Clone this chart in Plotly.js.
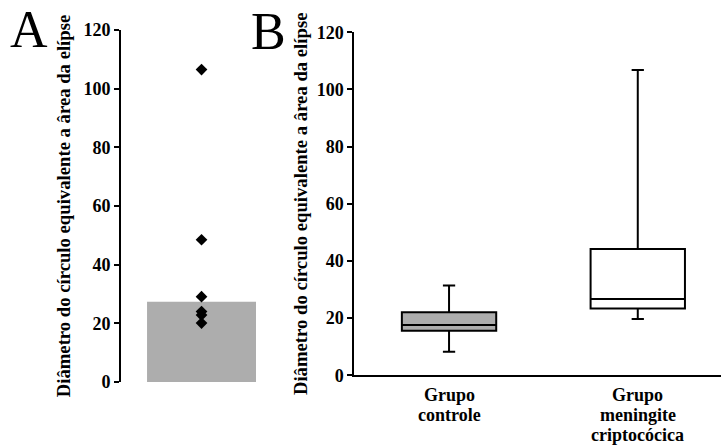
<!DOCTYPE html>
<html><head><meta charset="utf-8">
<script src="https://cdn.plot.ly/plotly-3.0.1.min.js"></script>
<style>body{margin:0}#chart{width:721px;height:445px}</style>
</head><body><div id="chart"></div>
<script>
const yTitle = 'Diâmetro do círculo equivalente a ârea da elípse';
const panelLabels = ['A', 'B'];
const barCategory = [0];
const barValue = [27.4];
const pointX = [0, 0, 0, 0, 0, 0];
const pointValues = [106.5, 48.5, 29.1, 24.0, 22.8, 20.1];
const groups = ['Grupo controle', 'Grupo meningite criptocócica'];
const groupLabelLines = [['Grupo', 'controle'], ['Grupo', 'meningite', 'criptocócica']];
const q1 = [15.6, 23.4];
const median = [17.6, 26.7];
const q3 = [22.1, 44.2];
const lowerfence = [8.2, 19.7];
const upperfence = [31.4, 106.8];
const boxFill = ['#adadad', '#ffffff'];
const yTicks = [0, 20, 40, 60, 80, 100, 120];

const W = 721, H = 445;
const fx = p => p / W;
const fy = p => 1 - p / H;
const FAM = 'Liberation Serif, serif';
const f18 = {family: FAM, size: 18, color: '#000', weight: 'bold'};
const fTitle = {family: FAM, size: 18.7, color: '#000', weight: 'bold'};

const traces = [
  {type: 'bar', x: barCategory, y: barValue, width: 1, marker: {color: '#adadad', line: {width: 0}},
   xaxis: 'x', yaxis: 'y', showlegend: false, hoverinfo: 'y'},
  {type: 'scatter', mode: 'markers', x: pointX, y: pointValues,
   marker: {symbol: 'diamond', size: 9, color: '#000'}, xaxis: 'x', yaxis: 'y', showlegend: false}
];
groups.forEach((g, i) => {
  traces.push({
    type: 'box', x: [g], q1: [q1[i]], median: [median[i]], q3: [q3[i]],
    lowerfence: [lowerfence[i]], upperfence: [upperfence[i]],
    fillcolor: boxFill[i], line: {color: '#000', width: 2},
    width: 0.5, whiskerwidth: 0.13, boxpoints: false,
    xaxis: 'x2', yaxis: 'y2', showlegend: false
  });
});

const yAxisCommon = {
  range: [0, 120], tickvals: yTicks, showline: true, linewidth: 2, linecolor: '#000',
  ticks: 'outside', ticklen: 5, tickwidth: 2, tickcolor: '#000', showgrid: false, zeroline: false,
  tickfont: f18, fixedrange: true
};

const annotations = [
  {text: panelLabels[0], x: fx(29), y: fy(30), xref: 'paper', yref: 'paper', xanchor: 'center', yanchor: 'middle',
   showarrow: false, font: {family: FAM, size: 52, weight: 'normal', color: '#000'}},
  {text: panelLabels[1], x: fx(268), y: fy(31), xref: 'paper', yref: 'paper', xanchor: 'center', yanchor: 'middle',
   showarrow: false, font: {family: FAM, size: 52, weight: 'normal', color: '#000'}}
];
const lineCenters = [395, 414.8, 434.6];
groupLabelLines.forEach((lines, i) => {
  lines.forEach((t, j) => {
    annotations.push({text: t, x: groups[i], xref: 'x2', y: fy(lineCenters[j]), yref: 'paper',
      xanchor: 'center', yanchor: 'middle', showarrow: false, borderpad: 0, font: f18});
  });
});

const layout = {
  width: W, height: H, margin: {l: 0, r: 0, t: 0, b: 0},
  paper_bgcolor: '#fff', plot_bgcolor: '#fff',
  font: {family: FAM, weight: 'bold', color: '#000'},
  boxmode: 'overlay', showlegend: false,
  xaxis: {domain: [fx(121), fx(256)], range: [-0.739, 0.5], visible: false, fixedrange: true},
  yaxis: Object.assign({}, yAxisCommon, {domain: [fy(382), fy(30)], anchor: 'x',
    title: {text: yTitle, font: fTitle, standoff: 8}}),
  xaxis2: {domain: [fx(354.3), 1], range: [-0.502, 1.441], type: 'category', categoryarray: groups,
    showline: true, linewidth: 2, linecolor: '#000', ticks: '', showgrid: false, zeroline: false,
    showticklabels: false, anchor: 'y2', fixedrange: true},
  yaxis2: Object.assign({}, yAxisCommon, {domain: [fy(375.3), fy(32.3)], anchor: 'x2',
    title: {text: yTitle, font: fTitle, standoff: 4}}),
  annotations: annotations
};

Plotly.newPlot('chart', traces, layout, {displayModeBar: false, staticPlot: true});
</script>
</body></html>
